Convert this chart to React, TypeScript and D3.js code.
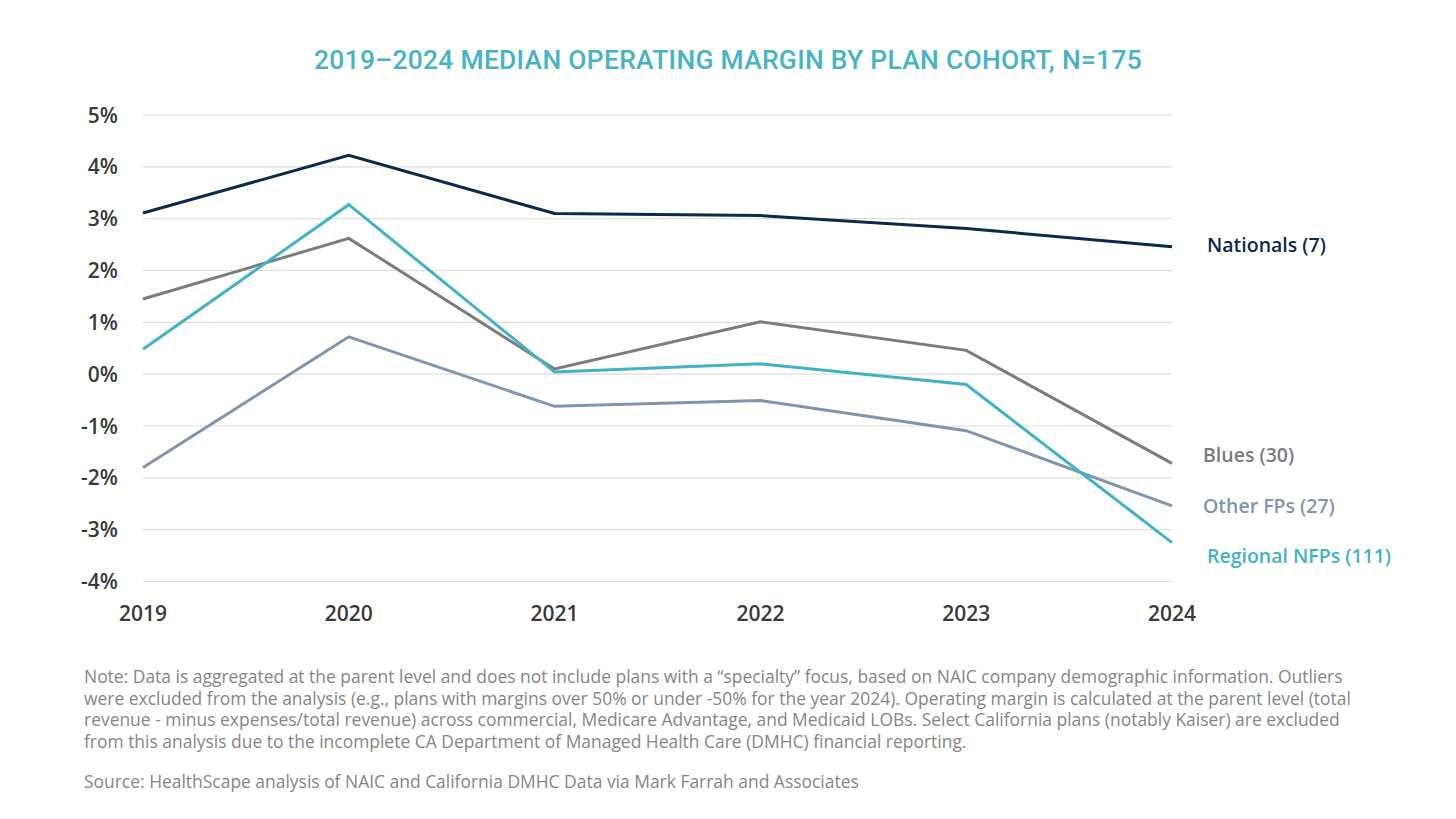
import React from "react";
import * as d3 from "d3";

const years = ["2019", "2020", "2021", "2022", "2023", "2024"];
const yTicks = [5, 4, 3, 2, 1, 0, -1, -2, -3, -4];

const nationals = [3.11, 4.22, 3.1, 3.06, 2.81, 2.46];
const blues = [1.45, 2.62, 0.1, 1.01, 0.46, -1.72];
const otherFPs = [-1.8, 0.72, -0.62, -0.51, -1.09, -2.54];
const regionalNFPs = [0.48, 3.27, 0.04, 0.2, -0.2, -3.25];

const seriesNames = ["Nationals (7)", "Blues (30)", "Other FPs (27)", "Regional NFPs (111)"];
const seriesColors = ["#0b2a4b", "#7b7b7b", "#7f95ad", "#41b2c6"];
const seriesValues = [nationals, blues, otherFPs, regionalNFPs];
const labelOffsets = [-1, -8, 0, 14];

const title = "2019\u20132024 MEDIAN OPERATING MARGIN BY PLAN COHORT, N=175";
const noteLines = [
  "Note: Data is aggregated at the parent level and does not include plans with a \u201cspecialty\u201d focus, based on NAIC company demographic information. Outliers",
  "were excluded from the analysis (e.g., plans with margins over 50% or under -50% for the year 2024). Operating margin is calculated at the parent level (total",
  "revenue - minus expenses/total revenue) across commercial, Medicare Advantage, and Medicaid LOBs. Select California plans (notably Kaiser) are excluded",
  "from this analysis due to the incomplete CA Department of Managed Health Care (DMHC) financial reporting.",
];
const source = "Source: HealthScape analysis of NAIC and California DMHC Data via Mark Farrah and Associates";

export default function App() {
  const W = 1456;
  const H = 819;
  const x = d3.scalePoint<string>().domain(years).range([143, 1172]);
  const y = d3.scaleLinear().domain([-4, 5]).range([581.5, 115]);
  const line = d3
    .line<number>()
    .x((_, i) => x(years[i]) as number)
    .y((d) => y(d));
  const font = "'Open Sans', 'Noto Sans', sans-serif";
  const labelX = [1207, 1203, 1203, 1207];

  return (
    <svg
      width={W}
      height={H}
      style={{ position: "absolute", left: 0, top: 0, background: "#fff" }}
    >
      <text
        x={728}
        y={69}
        textAnchor="middle"
        fontFamily="'Roboto', sans-serif"
        fontWeight={500}
        fontSize={26.4}
        fill="#45b2c6"
        letterSpacing={0.3}
      >
        {title}
      </text>
      {yTicks.map((t) => (
        <g key={t}>
          <line x1={143} x2={1172} y1={y(t)} y2={y(t)} stroke="#dedede" strokeWidth={1.2} />
          <text
            x={118}
            y={y(t)}
            dy="0.36em"
            textAnchor="end"
            fontFamily={font}
            fontWeight={600}
            fontSize={21}
            fill="#3a3a3a"
          >
            {t}%
          </text>
        </g>
      ))}
      {years.map((yr) => (
        <text
          key={yr}
          x={x(yr) as number}
          y={621}
          textAnchor="middle"
          fontFamily={font}
          fontWeight={600}
          fontSize={21}
          fill="#3a3a3a"
        >
          {yr}
        </text>
      ))}
      {seriesValues.map((vals, i) => (
        <path
          key={seriesNames[i]}
          d={line(vals) as string}
          fill="none"
          stroke={seriesColors[i]}
          strokeWidth={3}
          strokeLinejoin="miter"
        />
      ))}
      {seriesValues.map((vals, i) => (
        <text
          key={"l" + i}
          x={labelX[i]}
          y={y(vals[vals.length - 1]) + labelOffsets[i]}
          dy="0.35em"
          fontFamily={font}
          fontWeight={600}
          fontSize={19.5}
          fill={seriesColors[i]}
        >
          {seriesNames[i]}
        </text>
      ))}
      {noteLines.map((l, i) => (
        <text
          key={"n" + i}
          x={84}
          y={683 + i * 21.5}
          fontFamily={font}
          fontSize={17.45}
          fill="#858585"
        >
          {l}
        </text>
      ))}
      <text x={84} y={788} fontFamily={font} fontSize={17.45} fill="#858585">
        {source}
      </text>
    </svg>
  );
}
